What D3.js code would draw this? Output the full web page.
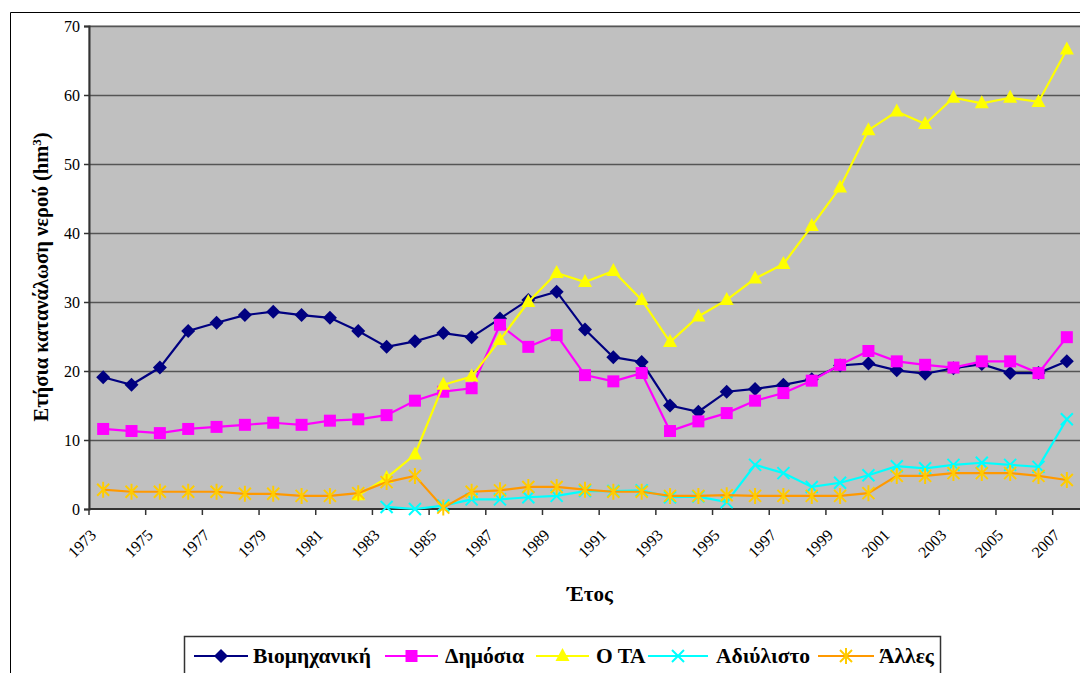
<!DOCTYPE html>
<html>
<head>
<meta charset="utf-8">
<script src="https://cdn.jsdelivr.net/npm/d3@7"></script>
<style>
  body { margin: 0; background: #fff; }
  svg { display: block; }
  svg text { font-family: "Liberation Serif", "Times New Roman", Times, serif; }
</style>
</head>
<body>
<svg width="1080" height="673"></svg>
<script>
const years = d3.range(1973, 2008)
const tickYears = years.filter(y => (y - 1973) % 2 === 0)
const yTicks = [0, 10, 20, 30, 40, 50, 60, 70]

// values, one per year (null = no data)
const viomichaniki = [19.1, 18.0, 20.5, 25.8, 27.0, 28.1, 28.6, 28.1, 27.7, 25.8, 23.5, 24.3, 25.5, 24.9, 27.6, 30.3, 31.5, 26.0, 22.0, 21.3, 15.0, 14.1, 17.0, 17.4, 18.0, 18.8, 20.8, 21.1, 20.1, 19.6, 20.4, 21.0, 19.7, 19.7, 21.4]
const dimosia = [11.6, 11.3, 11.0, 11.6, 11.9, 12.2, 12.5, 12.2, 12.8, 13.0, 13.6, 15.7, 17.0, 17.5, 26.7, 23.5, 25.2, 19.4, 18.5, 19.7, 11.3, 12.7, 13.9, 15.7, 16.8, 18.6, 20.9, 22.9, 21.4, 20.9, 20.5, 21.4, 21.4, 19.7, 24.9]
const ota = [null, null, null, null, null, null, null, null, null, 2.0, 4.5, 7.9, 18.0, 19.2, 24.5, 30.0, 34.2, 32.9, 34.5, 30.3, 24.2, 27.9, 30.3, 33.4, 35.5, 41.0, 46.6, 54.9, 57.6, 55.8, 59.6, 58.8, 59.6, 59.0, 66.6]
const adiylisto = [null, null, null, null, null, null, null, null, null, null, 0.3, 0.0, 0.5, 1.4, 1.4, 1.7, 1.9, 2.6, 2.6, 2.7, 1.7, 1.8, 1.0, 6.4, 5.2, 3.2, 3.8, 4.9, 6.2, 5.9, 6.4, 6.7, 6.4, 6.1, 13.0]
const alles = [2.8, 2.5, 2.5, 2.5, 2.5, 2.2, 2.2, 1.9, 1.9, 2.3, 3.9, 4.8, 0.2, 2.5, 2.7, 3.2, 3.2, 2.8, 2.5, 2.5, 1.9, 1.9, 2.0, 1.9, 1.9, 1.9, 1.9, 2.3, 4.8, 4.8, 5.2, 5.2, 5.2, 4.8, 4.2]

const seriesNames = ['Βιομηχανική', 'Δημόσια', 'Ο ΤΑ', 'Αδιύλιστο', 'Άλλες']
const seriesValues = [viomichaniki, dimosia, ota, adiylisto, alles]
const lineColors = ['#000080', '#ff00ff', '#ffff00', '#00ffff', '#ff9900']
const markerColors = ['#000080', '#ff00ff', '#ffff00', '#00ffff', '#ffcc00']
const markerShapes = ['diamond', 'square', 'triangle', 'cross', 'star']

const FONT = '"Liberation Serif", "Times New Roman", serif'
const plot = { left: 89, top: 26, right: 1081, bottom: 509 }

const svg = d3.select('svg').attr('font-family', FONT)

// outer chart frame
svg.append('path')
  .attr('d', 'M10.5,673 V12.5 H1080')
  .attr('fill', 'none')
  .attr('stroke', '#000')
  .attr('stroke-width', 1)

const x = d3.scaleBand()
  .domain(years)
  .range([plot.left, plot.right])
  .padding(0)

const y = d3.scaleLinear()
  .domain([0, 70])
  .range([plot.bottom, plot.top])

const cx = yr => x(yr) + x.bandwidth() / 2

svg.append('rect')
  .attr('x', plot.left).attr('y', plot.top)
  .attr('width', plot.right - plot.left).attr('height', plot.bottom - plot.top)
  .attr('fill', '#c0c0c0')
  .attr('stroke', '#808080')

// gridlines
svg.append('g')
  .selectAll('line')
  .data(yTicks.filter(d => d > 0))
  .join('line')
  .attr('x1', plot.left).attr('x2', plot.right)
  .attr('y1', d => Math.round(y(d)) + 0.5).attr('y2', d => Math.round(y(d)) + 0.5)
  .attr('stroke', '#555')
  .attr('stroke-width', 1.3)

// y axis
const yAxis = svg.append('g')
  .attr('transform', `translate(${plot.left},0)`)
  .call(d3.axisLeft(y).tickValues(yTicks).tickSize(5).tickPadding(4))
  .attr('font-family', FONT)
  .attr('font-size', 16)
yAxis.select('.domain').attr('stroke', '#333').attr('stroke-width', 2)
yAxis.selectAll('.tick line').attr('stroke', '#333').attr('stroke-width', 1.5)
yAxis.selectAll('.tick text').attr('fill', '#000')

// x axis: ticks between categories, labels every two years
const xAxis = svg.append('g')
  .attr('transform', `translate(0,${plot.bottom})`)
xAxis.append('line')
  .attr('x1', plot.left).attr('x2', plot.right)
  .attr('stroke', '#333').attr('stroke-width', 2)
xAxis.selectAll('.xt')
  .data(tickYears)
  .join('line')
  .attr('class', 'xt')
  .attr('x1', d => x(d)).attr('x2', d => x(d))
  .attr('y1', 0).attr('y2', 6)
  .attr('stroke', '#333').attr('stroke-width', 1.5)
xAxis.selectAll('.xl')
  .data(tickYears)
  .join('text')
  .attr('class', 'xl')
  .attr('transform', d => `translate(${cx(d) - 6},${27}) rotate(-45)`)
  .attr('text-anchor', 'end')
  .attr('font-size', 16)
  .text(d => d)

// axis titles
const yTitle = svg.append('text')
  .attr('transform', 'translate(48,277) rotate(-90)')
  .attr('text-anchor', 'middle')
  .attr('font-size', 20.5)
  .attr('font-weight', 'bold')
yTitle.append('tspan').text('Ετήσια κατανάλωση νερού (hm')
yTitle.append('tspan').attr('dy', -7).attr('font-size', 13).text('3')
yTitle.append('tspan').attr('dy', 7).text(')')

svg.append('text')
  .attr('x', 590).attr('y', 601)
  .attr('text-anchor', 'middle')
  .attr('font-size', 21)
  .attr('font-weight', 'bold')
  .text('Έτος')

// marker shapes
const markerPath = (shape) => {
  if (shape === 'diamond') return 'M0,-7 L7,0 L0,7 L-7,0 Z'
  if (shape === 'square') return 'M-6,-6 H6 V6 H-6 Z'
  if (shape === 'triangle') return 'M0,-8 L7,5 L-7,5 Z'
  if (shape === 'cross') return 'M-6,-6 L6,6 M-6,6 L6,-6'
  return 'M-6,-6 L6,6 M-6,6 L6,-6 M0,-8 V8'
}
const drawMarker = (sel, i) => {
  const shape = markerShapes[i]
  const open = shape === 'cross' || shape === 'star'
  sel.attr('d', markerPath(shape))
    .attr('fill', open ? 'none' : markerColors[i])
    .attr('stroke', markerColors[i])
    .attr('stroke-width', open ? 2 : 0)
}

const line = d3.line()
  .defined(d => d.v !== null)
  .x(d => cx(d.year))
  .y(d => y(d.v))

seriesValues.forEach((vals, i) => {
  const pts = years.map((yr, k) => ({ year: yr, v: vals[k] }))
  const g = svg.append('g')
  g.append('path')
    .datum(pts)
    .attr('d', line)
    .attr('fill', 'none')
    .attr('stroke', lineColors[i])
    .attr('stroke-width', 2.2)
  g.selectAll('path.m')
    .data(pts.filter(d => d.v !== null))
    .join('path')
    .attr('class', 'm')
    .attr('transform', d => `translate(${cx(d.year)},${y(d.v)})`)
    .call(drawMarker, i)
})

// legend
const legend = svg.append('g')
legend.append('rect')
  .attr('x', 184.5).attr('y', 636.5)
  .attr('width', 756).attr('height', 40)
  .attr('fill', '#fff')
  .attr('stroke', '#333').attr('stroke-width', 1.5)
const legendX = [194, 385, 536, 648, 818]
const legendLen = [54, 53, 53, 60, 56]
const legendTextX = [253, 445, 596, 716, 879]
seriesNames.forEach((name, i) => {
  const lg = legend.append('g').attr('transform', `translate(${legendX[i]},656)`)
  lg.append('line')
    .attr('x1', 0).attr('x2', legendLen[i])
    .attr('stroke', lineColors[i]).attr('stroke-width', 2.2)
  lg.append('path')
    .attr('transform', `translate(${legendLen[i] / 2},0)`)
    .call(drawMarker, i)
  legend.append('text')
    .attr('x', legendTextX[i])
    .attr('y', 663)
    .attr('font-size', 21.5)
    .attr('font-weight', 'bold')
    .text(name)
})
</script>
</body>
</html>
